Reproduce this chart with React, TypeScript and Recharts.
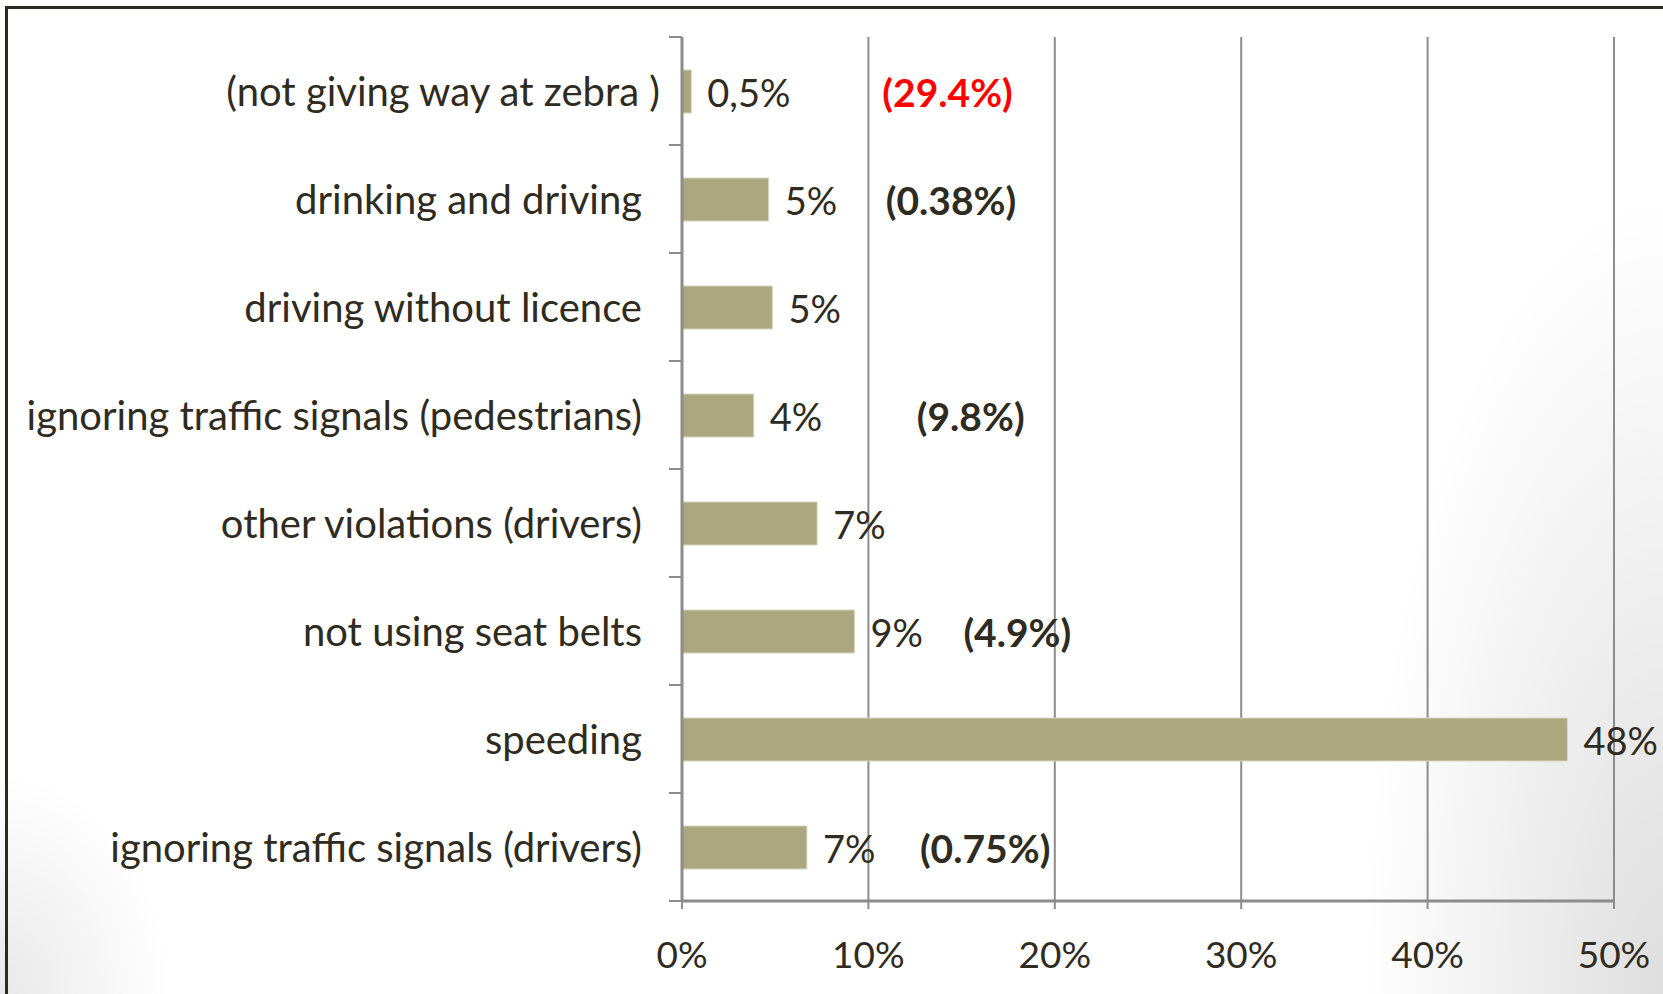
import React from "react";
import { BarChart, Bar, XAxis, YAxis, CartesianGrid, LabelList } from "recharts";

const categories = [
  "(not giving way at zebra )",
  "drinking and driving",
  "driving without licence",
  "ignoring traffic signals (pedestrians)",
  "other violations (drivers)",
  "not using seat belts",
  "speeding",
  "ignoring traffic signals (drivers)",
];
const shares = [0.5, 4.65, 4.85, 3.85, 7.25, 9.25, 47.5, 6.7];
const valueLabels = ["0,5%", "5%", "5%", "4%", "7%", "9%", "48%", "7%"];
const notes = ["(29.4%)", "(0.38%)", "", "(9.8%)", "", "(4.9%)", "", "(0.75%)"];
const highlightedNote = [true, false, false, false, false, false, false, false];
const xTicks = [0, 10, 20, 30, 40, 50];

const data = categories.map((c, i) => ({ name: c, value: shares[i], idx: i }));

const FONT = "Lato, 'Open Sans', sans-serif";
const TEXT = "#2f2b20";
const GRID = "#8c8c8c";
const BAR = "#aba77f";
const TOP = 37;
const PLOT_H = 864;
const AXIS_X = 682;
const TICK_LEN = 13;
// horizontal offset (px) of each note from the end of its bar
const noteGap = [191, 117, 0, 163, 0, 109, 0, 113];
// small horizontal nudge of category labels (first label sits further right)
const labelNudge = [18, 0, 0, 0, 0, 0, 0, 0];

const renderLabel = (props: any) => {
  const { x, y, width, height, index } = props;
  const cy = y + height / 2;
  const end = x + width;
  const note = notes[index];
  return (
    <g>
      <text x={end + 16} y={cy} dominantBaseline="central" fontSize={38} fontFamily={FONT} fill={TEXT}>
        {valueLabels[index]}
      </text>
      {note ? (
        <text
          x={end + noteGap[index]}
          y={cy}
          dominantBaseline="central"
          fontSize={39}
          fontWeight={700}
          fontFamily={FONT}
          fill={highlightedNote[index] ? "#ff0000" : TEXT}
        >
          {note}
        </text>
      ) : null}
    </g>
  );
};

const CategoryTick = (props: any) => {
  const { x, y, payload, index } = props;
  const half = PLOT_H / categories.length / 2;
  return (
    <g>
      <line x1={AXIS_X - TICK_LEN} x2={AXIS_X} y1={y - half} y2={y - half} stroke={GRID} strokeWidth={2} />
      {index === categories.length - 1 ? (
        <line x1={AXIS_X - TICK_LEN} x2={AXIS_X} y1={y + half} y2={y + half} stroke={GRID} strokeWidth={2} />
      ) : null}
      <text
        x={x + (labelNudge[index] || 0)}
        y={y}
        textAnchor="end"
        dominantBaseline="central"
        fontSize={40}
        fontFamily={FONT}
        fill={TEXT}
      >
        {payload.value}
      </text>
    </g>
  );
};

export default function App() {
  return (
    <div
      style={{
        position: "fixed",
        left: 0,
        top: 0,
        width: 1663,
        height: 994,
        overflow: "hidden",
        background:
          "radial-gradient(ellipse 300px 800px at 1663px 994px, rgba(0,0,0,0.13), rgba(0,0,0,0) 100%), radial-gradient(ellipse 170px 220px at 0px 994px, rgba(0,0,0,0.09), rgba(0,0,0,0) 100%), #ffffff",
      }}
    >
      <div
        style={{
          position: "absolute",
          left: 5,
          top: 6,
          width: 1700,
          height: 1100,
          borderTop: "3px solid #2d2a22",
          borderLeft: "3px solid #2d2a22",
          boxSizing: "border-box",
        }}
      />
      <div style={{ position: "absolute", left: 0, top: 0 }}>
        <BarChart
          width={1663}
          height={994}
          data={data}
          layout="vertical"
          margin={{ top: TOP, right: 49, bottom: 0, left: 0 }}
          barSize={43}
        >
          <CartesianGrid horizontal={false} vertical={true} stroke={GRID} strokeWidth={2} />
          <XAxis
            type="number"
            domain={[0, 50]}
            ticks={xTicks}
            tickFormatter={(v: number) => `${v}%`}
            height={93}
            tickSize={8}
            tickMargin={33}
            axisLine={{ stroke: GRID, strokeWidth: 3 }}
            tickLine={{ stroke: GRID, strokeWidth: 2 }}
            tick={{ fontSize: 37, fontFamily: FONT, fill: TEXT }}
            interval={0}
          />
          <YAxis
            type="category"
            dataKey="name"
            width={AXIS_X}
            tickSize={TICK_LEN}
            tickMargin={27}
            axisLine={{ stroke: GRID, strokeWidth: 3 }}
            tickLine={false}
            tick={<CategoryTick />}
            interval={0}
          />
          <Bar dataKey="value" fill={BAR} stroke="#d8d6c0" strokeWidth={1} isAnimationActive={false}>
            <LabelList dataKey="value" content={renderLabel} />
          </Bar>
        </BarChart>
      </div>
    </div>
  );
}
